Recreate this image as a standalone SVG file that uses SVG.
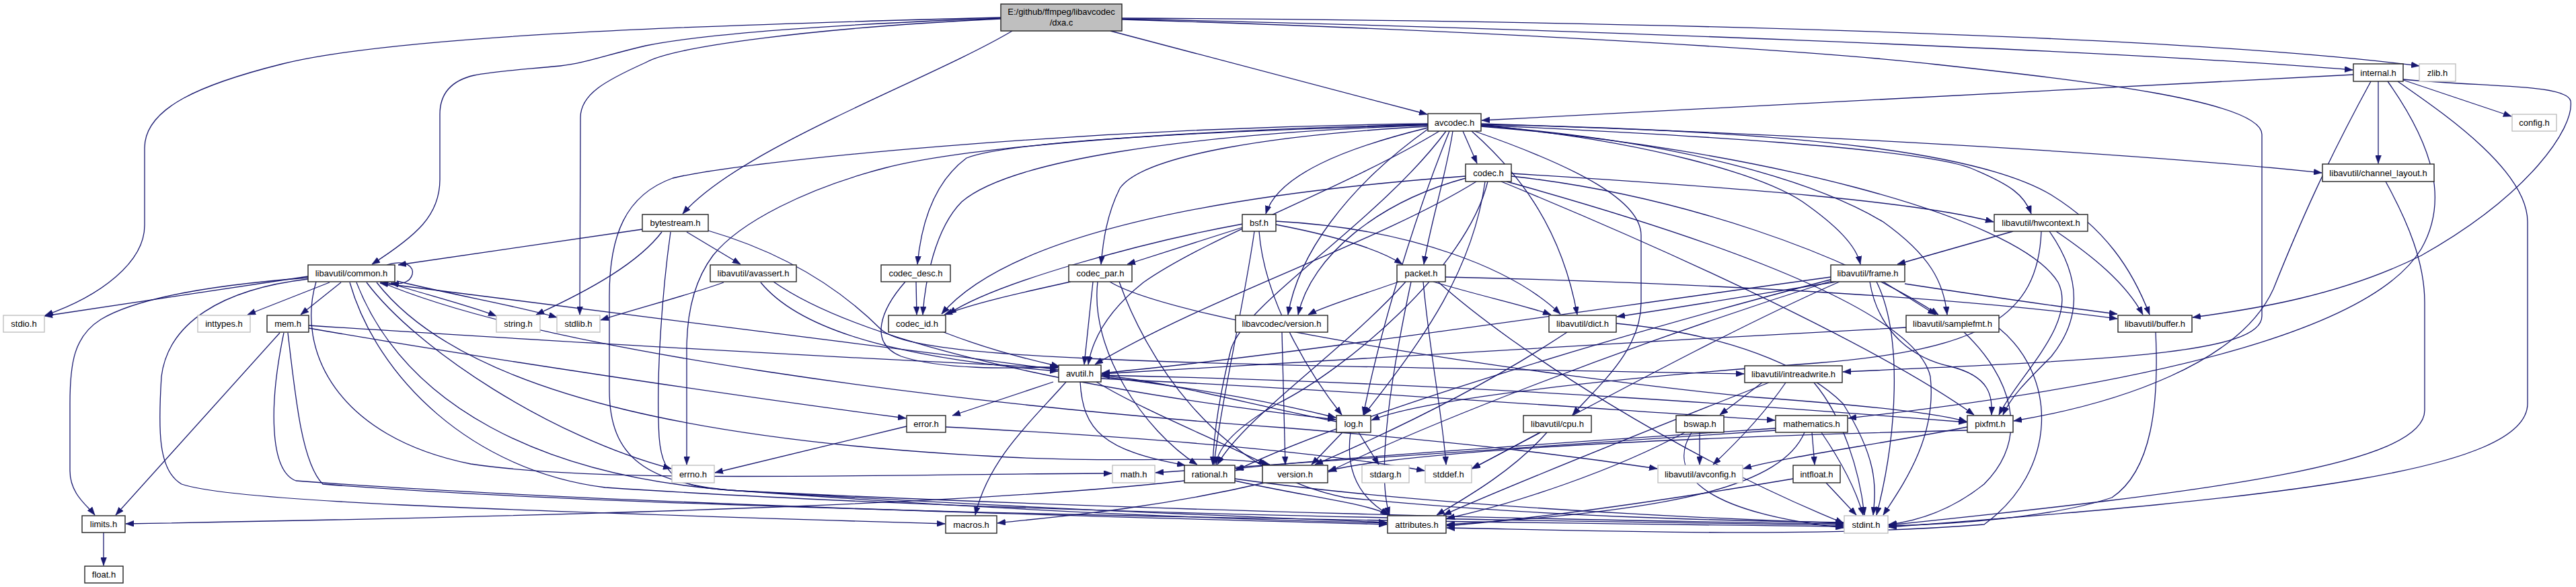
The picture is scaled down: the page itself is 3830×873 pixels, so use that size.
<svg xmlns="http://www.w3.org/2000/svg" width="3830" height="873" viewBox="0 0 3830 873">
<defs>
<marker id="arr" viewBox="0 0 12 9" refX="12" refY="4.5" markerWidth="12" markerHeight="9" markerUnits="userSpaceOnUse" orient="auto"><path d="M0,0 L12,4.5 L0,9 z" fill="#191970" stroke="#191970" stroke-width="0.5"/></marker>
<style>
.n rect{fill:#ffffff;stroke:#222222;stroke-width:1.4}
.g rect{fill:#ffffff;stroke:#bfbfbf;stroke-width:1.4}
.r rect{fill:#bfbfbf;stroke:#222222;stroke-width:1.4}
text{font-family:"Liberation Sans",Arial,sans-serif;font-size:13px;fill:#000000;text-anchor:middle}
#edges path{fill:none;stroke:#191970;stroke-width:1.3;marker-end:url(#arr)}
</style>
</defs>
<rect x="0" y="0" width="3830" height="873" fill="#ffffff"/>
<g id="edges">
<!-- dxa.c -->
<path d="M1488,26 C1100,36 600,50 420,95 C300,125 215,160 215,220 L215,335 C215,390 150,440 67,469"/>
<path d="M1488,27 C1250,36 1050,50 960,68 C900,82 870,94 833,98 C770,104 735,106 705,112 C670,120 654,140 654,170 L654,267 C654,320 620,350 553,393"/>
<path d="M1488,28 C1200,42 1000,70 960,93 C900,120 863,140 863,175 L862,468"/>
<path d="M1505,46 C1380,120 1100,220 1015,318"/>
<path d="M1651,46 L2122,170"/>
<path d="M1668,27 C2300,30 3200,48 3597,98"/>
<path d="M1668,28 C2300,42 3150,75 3498,104"/>
<path d="M1668,29 C2200,45 2700,75 2880,96 C3100,120 3363,150 3363,200 L3363,470 C3363,525 3150,535 2740,553"/>
<!-- bytestream.h -->
<path d="M955,341 L592,394"/>
<path d="M1021,345 L1101,393"/>
<path d="M984,345 C950,390 880,430 797,468"/>
<path d="M997,345 C985,430 975,560 980,650 C985,720 1020,725 1100,730 C1700,760 2400,775 2741,779"/>
<path d="M1053,343 C1180,380 1260,440 1310,490 C1360,535 1700,540 2593,556"/>
<!-- avassert.h -->
<path d="M1076,420 C1020,440 960,455 893,476"/>
<path d="M1131,420 C1180,480 1300,530 1573,552"/>
<path d="M1150,419 C1280,510 1600,580 1986,624"/>
<!-- common.h -->
<path d="M575,394 C605,385 616,398 613,408 C610,419 598,424 581,421"/>
<path d="M458,411 L66,470"/>
<path d="M490,420 L368,468"/>
<path d="M507,420 L447,468"/>
<path d="M575,420 C640,440 700,455 738,470"/>
<path d="M590,418 C680,440 770,455 828,472"/>
<path d="M458,413 C300,425 200,445 150,475 C110,500 104,540 104,600 L104,700 C104,735 130,752 141,766"/>
<path d="M545,420 C620,520 820,650 998,697"/>
<path d="M470,419 C440,520 500,650 700,690 C900,720 1300,705 1653,704"/>
<path d="M458,415 C330,430 250,480 240,560 C235,640 235,700 270,720 C340,745 700,758 1405,779"/>
<path d="M530,420 C600,600 800,710 1100,730 C1500,760 1800,772 2062,778"/>
<path d="M560,420 C700,600 1100,660 1500,680 C1700,690 1820,675 1888,691"/>
<path d="M520,420 C560,560 700,700 900,725 C1500,765 2300,775 2741,781"/>
<path d="M565,419 C800,520 1400,600 1920,637 C2200,660 2350,680 2464,697"/>
<!-- mem.h -->
<path d="M416,495 L172,766"/>
<path d="M422,495 C400,600 400,700 440,715 C900,750 1700,770 2062,780"/>
<path d="M428,495 C440,600 450,690 480,720 C1000,760 2000,775 2741,783"/>
<path d="M459,484 C700,500 1200,530 1573,547"/>
<path d="M459,488 C700,530 1100,590 1347,622"/>
<!-- avutil.h -->
<path d="M1574,550 C1200,500 800,450 565,421"/>
<path d="M1566,568 L1416,618"/>
<path d="M1585,568 C1540,620 1470,680 1450,766"/>
<path d="M1606,568 C1610,640 1640,670 1762,692"/>
<path d="M1630,568 C1700,610 1800,650 1883,691"/>
<path d="M1637,560 C1800,580 1900,600 1986,621"/>
<path d="M1637,563 C2000,580 2400,610 2639,625"/>
<path d="M1637,558 C2200,570 2700,610 2924,628"/>
<!-- error.h -->
<path d="M1348,634 L1063,703"/>
<path d="M1406,635 C1700,650 1950,670 2118,700"/>
<!-- rational.h -->
<path d="M1761,715 C1500,745 1000,765 187,779"/>
<path d="M1836,715 C1950,740 2040,750 2064,766"/>
<path d="M1836,712 C2100,750 2500,770 2741,778"/>
<!-- version.h -->
<path d="M1880,718 C1700,760 1550,770 1483,778"/>
<!-- libavcodec/version.h -->
<path d="M1906,494 L1911,691"/>
<!-- log.h -->
<path d="M2020,643 L2050,691"/>
<path d="M1996,643 L1950,691"/>
<path d="M2008,643 C2000,700 2020,740 2066,766"/>
<path d="M1987,627 C1850,600 1750,570 1638,558"/>
<!-- mathematics.h -->
<path d="M2694,643 L2698,691"/>
<path d="M2708,643 C2740,690 2760,730 2770,766"/>
<path d="M2683,643 C2650,720 2500,760 2151,780"/>
<path d="M2640,637 C2300,660 2000,680 1837,697"/>
<path d="M2640,640 C2200,670 1900,690 1718,703"/>
<!-- intfloat.h -->
<path d="M2715,718 L2760,766"/>
<path d="M2666,712 C2500,740 2300,770 2151,782"/>
<!-- pixfmt.h -->
<path d="M2925,635 C2800,660 2650,680 2592,697"/>
<path d="M2925,640 C2500,650 2100,670 1975,700"/>
<!-- intreadwrite.h -->
<path d="M2620,569 L2557,617"/>
<path d="M2655,569 C2620,620 2580,660 2547,691"/>
<path d="M2697,569 C2740,620 2765,700 2772,766"/>
<path d="M2630,569 C2450,640 2250,720 2146,766"/>
<!-- bswap.h -->
<path d="M2527,643 L2527,691"/>
<path d="M2505,643 C2400,700 2250,750 2151,771"/>
<path d="M2515,643 C2480,700 2520,760 2741,785"/>
<!-- cpu.h -->
<path d="M2290,643 L2189,697"/>
<path d="M2300,643 C2250,700 2180,740 2136,766"/>
<!-- dict.h -->
<path d="M2403,481 C2600,500 2700,560 2740,600 C2790,680 2790,720 2785,766"/>
<path d="M2330,494 C2200,580 2050,650 1955,691"/>
<!-- samplefmt.h -->
<path d="M2834,487 C2400,510 1900,540 1638,556"/>
<path d="M2920,494 C2990,560 3020,650 2950,720 C2900,760 2850,775 2808,780"/>
<path d="M2972,488 C3060,560 3060,700 2950,780 C2700,800 2400,790 2151,785"/>
<!-- buffer.h -->
<path d="M3205,494 C3210,600 3200,700 3140,740 C3050,770 2900,780 2808,782"/>
<!-- frame.h -->
<path d="M2800,419 L2878,468"/>
<path d="M2832,422 C2950,440 3050,455 3148,467"/>
<path d="M2780,419 C2790,480 2830,530 2900,545 C2960,560 2962,590 2961,617"/>
<path d="M2722,412 C2300,470 1900,530 1638,555"/>
<path d="M2730,419 C2600,440 2480,460 2404,471"/>
<path d="M2725,415 C2400,500 2000,620 1837,700"/>
<path d="M2735,419 C2550,500 2300,640 2188,697"/>
<path d="M2790,419 C2830,500 2820,650 2790,766"/>
<path d="M2722,418 C2400,520 2100,640 1975,702"/>
<!-- hwcontext.h -->
<path d="M2993,344 L2821,393"/>
<path d="M3057,344 C3110,380 3160,420 3186,468"/>
<path d="M3047,344 C3100,420 3090,480 3050,530 C3010,570 2990,590 2978,617"/>
<path d="M3035,344 C3030,470 2950,520 2700,540 C2300,570 2100,600 2039,625"/>
<!-- channel_layout.h -->
<path d="M3547,270 C3580,330 3605,390 3605,450 L3605,610 C3605,690 3300,730 2808,781"/>
<!-- internal.h -->
<path d="M3499,111 L2203,179"/>
<path d="M3536,121 L3536,243"/>
<path d="M3573,119 L3734,173"/>
<path d="M3565,121 C3620,160 3758,250 3758,330 L3758,600 C3758,700 3400,740 2808,784"/>
<path d="M3573,118 C3700,130 3815,125 3822,150 C3828,190 3760,290 3600,380 C3480,440 3350,460 3260,472"/>
<path d="M3525,121 C3460,240 3420,330 3380,430 C3330,540 3150,600 2994,626"/>
<path d="M3550,121 C3620,220 3640,300 3600,370 C3540,470 3300,560 2748,622"/>
<!-- avcodec.h -->
<path d="M2175,195 L2196,243"/>
<path d="M2160,195 C2150,260 2125,340 2117,393"/>
<path d="M2123,190 C2000,220 1900,260 1882,318"/>
<path d="M2123,188 C1900,200 1700,230 1665,280 C1645,320 1640,360 1637,393"/>
<path d="M2123,186 C1800,195 1500,210 1437,235 C1390,270 1370,330 1364,393"/>
<path d="M2123,186 C1750,200 1500,240 1430,300 C1390,340 1375,420 1372,468"/>
<path d="M2123,185 C1800,192 1450,215 1315,250 C1200,280 1100,330 1060,380 C1030,420 1021,470 1021,520 L1021,691"/>
<path d="M2123,184 C1600,190 1100,240 1000,265 C930,290 906,350 906,440 L906,580 C906,680 960,720 1100,730 C1600,760 1900,770 2062,777"/>
<path d="M2140,195 C2000,280 1800,350 1700,420 C1650,460 1625,500 1618,542"/>
<path d="M2192,195 C2350,250 2440,300 2440,350 L2440,450 C2440,520 2380,570 2338,617"/>
<path d="M2150,195 C2050,330 1850,450 1830,520 C1815,580 1805,640 1803,691"/>
<path d="M2155,195 C2100,330 2050,500 2027,617"/>
<path d="M2123,192 C2000,280 1930,380 1915,468"/>
<path d="M2188,195 C2250,250 2320,330 2345,468"/>
<path d="M2202,186 C2450,210 2620,260 2680,300 C2730,335 2760,365 2766,393"/>
<path d="M2202,186 C2500,200 2850,220 2930,250 C2990,275 3010,290 3020,318"/>
<path d="M2202,184 C2700,200 3200,230 3452,257"/>
<path d="M2202,185 C2700,195 2950,230 3050,290 C3130,340 3170,400 3196,468"/>
<path d="M2202,187 C2500,210 2700,270 2800,330 C2870,380 2890,420 2895,468"/>
<path d="M2202,188 C2600,220 3000,320 3060,420 C3090,480 3000,560 2972,617"/>
<!-- codec.h -->
<path d="M2247,258 C2600,280 2850,300 2964,330"/>
<path d="M2247,262 C2500,290 2750,380 2882,468"/>
<path d="M2179,262 C1800,290 1500,350 1400,467"/>
<path d="M2179,265 C2050,300 1950,380 1930,468"/>
<path d="M2195,270 C2050,360 1800,440 1628,542"/>
<path d="M2208,270 C2190,400 2120,500 2028,617"/>
<path d="M2212,270 C2180,400 2000,550 1900,600 C1830,640 1810,670 1808,691"/>
<path d="M2232,270 C2500,380 2800,520 2935,617"/>
<path d="M2240,270 C2600,370 2850,470 2870,560 C2880,650 2830,720 2800,766"/>
<!-- codec_desc.h -->
<path d="M1362,419 L1363,468"/>
<path d="M1346,419 C1310,460 1290,510 1340,530 C1400,550 1500,548 1573,546"/>
<!-- codec_id.h -->
<path d="M1403,494 C1470,520 1530,535 1575,545"/>
<!-- codec_par.h -->
<path d="M1592,419 C1520,435 1450,450 1404,468"/>
<path d="M1625,419 L1612,542"/>
<path d="M1632,419 C1620,520 1700,640 1780,691"/>
<path d="M1650,419 C1750,480 2300,560 2600,590 C2800,605 2880,615 2924,627"/>
<path d="M1664,419 C1700,520 1800,700 2000,740 C2300,770 2600,775 2741,777"/>
<!-- packet.h -->
<path d="M2080,419 C2020,440 1970,455 1945,468"/>
<path d="M2090,419 C2000,520 1850,620 1810,691"/>
<path d="M2131,419 C2200,440 2270,455 2306,468"/>
<path d="M2149,412 C2500,420 2900,440 3148,474"/>
<path d="M2116,419 C2125,520 2145,620 2150,691"/>
<path d="M2098,419 C2070,550 2045,700 2066,766"/>
<path d="M2138,419 C2250,520 2500,680 2741,778"/>
<!-- bsf.h -->
<path d="M1848,338 L1676,393"/>
<path d="M1848,333 C1700,360 1480,420 1410,467"/>
<path d="M1897,334 C1980,350 2050,370 2085,393"/>
<path d="M1897,329 C2100,340 2250,400 2320,467"/>
<path d="M1872,344 C1880,450 1950,560 1995,617"/>
<path d="M1865,344 C1850,450 1815,600 1805,691"/>
<!-- limits.h -->
<path d="M154,792 L154,841"/>
</g>
<g id="n_dxa" class="r"><rect x="1488" y="6" width="180" height="40"/><text x="1578" y="22">E:/github/ffmpeg/libavcodec</text><text x="1578" y="38">/dxa.c</text></g>
<g id="n_common" class="n"><rect x="458" y="394" width="129" height="25"/><text x="522.5" y="411">libavutil/common.h</text></g>
<g id="n_bytestream" class="n"><rect x="955" y="319" width="98" height="25"/><text x="1004" y="336">bytestream.h</text></g>
<g id="n_avassert" class="n"><rect x="1056" y="394" width="128" height="25"/><text x="1120" y="411">libavutil/avassert.h</text></g>
<g id="n_codec_desc" class="n"><rect x="1310" y="394" width="103" height="25"/><text x="1361.5" y="411">codec_desc.h</text></g>
<g id="n_codec_par" class="n"><rect x="1589" y="394" width="94" height="25"/><text x="1636" y="411">codec_par.h</text></g>
<g id="n_bsf" class="n"><rect x="1847" y="319" width="50" height="25"/><text x="1872" y="336">bsf.h</text></g>
<g id="n_avcodec" class="n"><rect x="2123" y="169" width="79" height="26"/><text x="2162.5" y="186.5">avcodec.h</text></g>
<g id="n_codec" class="n"><rect x="2179" y="244" width="68" height="26"/><text x="2213" y="261.5">codec.h</text></g>
<g id="n_packet" class="n"><rect x="2077" y="394" width="72" height="25"/><text x="2113" y="411">packet.h</text></g>
<g id="n_frame" class="n"><rect x="2722" y="394" width="110" height="25"/><text x="2777" y="411">libavutil/frame.h</text></g>
<g id="n_internal" class="n"><rect x="3499" y="95" width="74" height="26"/><text x="3536" y="112.5">internal.h</text></g>
<g id="n_zlib" class="g"><rect x="3597" y="95" width="54" height="26"/><text x="3624" y="112.5">zlib.h</text></g>
<g id="n_config" class="g"><rect x="3735" y="170" width="66" height="25"/><text x="3768" y="187">config.h</text></g>
<g id="n_channel_layout" class="n"><rect x="3453" y="244" width="166" height="26"/><text x="3536" y="261.5">libavutil/channel_layout.h</text></g>
<g id="n_hwcontext" class="n"><rect x="2965" y="319" width="139" height="25"/><text x="3034.5" y="336">libavutil/hwcontext.h</text></g>
<g id="n_stdio" class="g"><rect x="5" y="469" width="61" height="25"/><text x="35.5" y="486">stdio.h</text></g>
<g id="n_inttypes" class="g"><rect x="294" y="469" width="78" height="25"/><text x="333" y="486">inttypes.h</text></g>
<g id="n_mem" class="n"><rect x="397" y="469" width="62" height="25"/><text x="428" y="486">mem.h</text></g>
<g id="n_string" class="g"><rect x="738" y="469" width="65" height="25"/><text x="770.5" y="486">string.h</text></g>
<g id="n_stdlib" class="g"><rect x="828" y="469" width="64" height="25"/><text x="860" y="486">stdlib.h</text></g>
<g id="n_limits" class="n"><rect x="122" y="767" width="64" height="25"/><text x="154" y="784">limits.h</text></g>
<g id="n_float" class="n"><rect x="126" y="842" width="57" height="25"/><text x="154.5" y="859">float.h</text></g>
<g id="n_codec_id" class="n"><rect x="1321" y="469" width="85" height="25"/><text x="1363.5" y="486">codec_id.h</text></g>
<g id="n_lavc_version" class="n"><rect x="1837" y="469" width="137" height="25"/><text x="1905.5" y="486">libavcodec/version.h</text></g>
<g id="n_avutil" class="n"><rect x="1574" y="543" width="63" height="25"/><text x="1605.5" y="560">avutil.h</text></g>
<g id="n_error" class="n"><rect x="1348" y="618" width="58" height="25"/><text x="1377" y="635">error.h</text></g>
<g id="n_errno" class="g"><rect x="999" y="692" width="63" height="26"/><text x="1030.5" y="709.5">errno.h</text></g>
<g id="n_math" class="g"><rect x="1654" y="692" width="63" height="26"/><text x="1685.5" y="709.5">math.h</text></g>
<g id="n_rational" class="n"><rect x="1761" y="692" width="75" height="26"/><text x="1798.5" y="709.5">rational.h</text></g>
<g id="n_version" class="n"><rect x="1877" y="692" width="97" height="26"/><text x="1925.5" y="709.5">version.h</text></g>
<g id="n_macros" class="n"><rect x="1406" y="767" width="76" height="26"/><text x="1444" y="784.5">macros.h</text></g>
<g id="n_dict" class="n"><rect x="2303" y="469" width="100" height="25"/><text x="2353" y="486">libavutil/dict.h</text></g>
<g id="n_samplefmt" class="n"><rect x="2834" y="469" width="138" height="25"/><text x="2903" y="486">libavutil/samplefmt.h</text></g>
<g id="n_buffer" class="n"><rect x="3149" y="469" width="110" height="25"/><text x="3204" y="486">libavutil/buffer.h</text></g>
<g id="n_intreadwrite" class="n"><rect x="2594" y="544" width="145" height="25"/><text x="2666.5" y="561">libavutil/intreadwrite.h</text></g>
<g id="n_log" class="n"><rect x="1987" y="618" width="51" height="25"/><text x="2012.5" y="635">log.h</text></g>
<g id="n_cpu" class="n"><rect x="2265" y="618" width="101" height="25"/><text x="2315.5" y="635">libavutil/cpu.h</text></g>
<g id="n_bswap" class="n"><rect x="2492" y="618" width="71" height="25"/><text x="2527.5" y="635">bswap.h</text></g>
<g id="n_mathematics" class="n"><rect x="2640" y="618" width="107" height="25"/><text x="2693.5" y="635">mathematics.h</text></g>
<g id="n_pixfmt" class="n"><rect x="2925" y="618" width="68" height="25"/><text x="2959" y="635">pixfmt.h</text></g>
<g id="n_stdarg" class="g"><rect x="2025" y="692" width="70" height="26"/><text x="2060" y="709.5">stdarg.h</text></g>
<g id="n_stddef" class="g"><rect x="2119" y="692" width="69" height="26"/><text x="2153.5" y="709.5">stddef.h</text></g>
<g id="n_avconfig" class="g"><rect x="2465" y="692" width="126" height="26"/><text x="2528" y="709.5">libavutil/avconfig.h</text></g>
<g id="n_intfloat" class="n"><rect x="2666" y="692" width="70" height="26"/><text x="2701" y="709.5">intfloat.h</text></g>
<g id="n_attributes" class="n"><rect x="2063" y="767" width="87" height="26"/><text x="2106.5" y="784.5">attributes.h</text></g>
<g id="n_stdint" class="g"><rect x="2742" y="767" width="65" height="26"/><text x="2774.5" y="784.5">stdint.h</text></g>
</svg>
